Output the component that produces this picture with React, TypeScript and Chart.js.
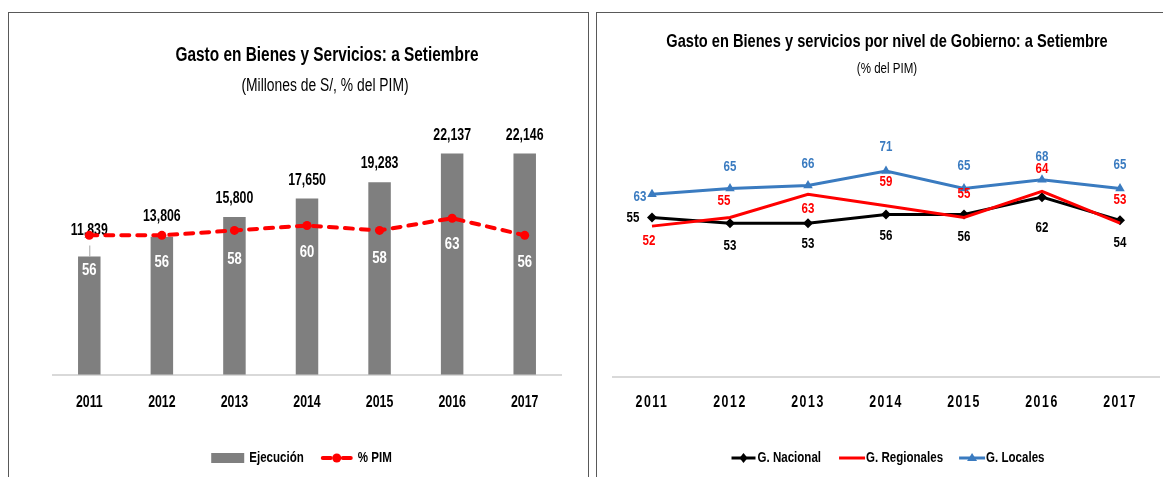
import React, { useEffect, useRef } from 'react';
import { Chart, registerables } from 'chart.js';

Chart.register(...registerables);

// ---------- data ----------
const years = ['2011', '2012', '2013', '2014', '2015', '2016', '2017'];
const ejecucion = [11839, 13806, 15800, 17650, 19283, 22137, 22146];
const pctPim = [56, 56, 58, 60, 58, 63, 56];
const gNacional = [55, 53, 53, 56, 56, 62, 54];
const gRegionales = [52, 55, 63, 59, 55, 64, 53];
const gLocales = [63, 65, 66, 71, 65, 68, 65];

// ---------- label placements (offsets from each mark, px) ----------
const ejecucionLabelDy = [-26, -20, -18, -18, -19, -18, -18];
const pctPimLabelDy = [35, 27, 29, 27, 28, 26, 27];
const nacionalLabelOffset = [[-19, 0], [0, 23], [0, 21], [0, 21], [0, 22], [0, 31], [0, 23]];
const regionalesLabelOffset = [[-3, 15], [-6, -17], [0, 15], [0, -24], [0, -24], [0, -23], [0, -23]];
const localesLabelOffset = [[-12, 3], [0, -22], [0, -22], [0, -24], [0, -23], [0, -23], [0, -24]];

const FONT = "'Liberation Sans', Arial, sans-serif";
const SX = 0.77; // horizontal condensing of all chart text (narrow, Calibri-like look)
const RED = '#FF0000';
const GRAY = '#7F7F7F';
const BLUE = '#3A7BC0';

Chart.defaults.font.family = FONT;

function font(size: number, bold: boolean) {
  return `${bold ? 'bold ' : ''}${size}px ${FONT}`;
}

function condense(ctx: any) {
  if (ctx.__condensed) return;
  ctx.__condensed = true;
  const fill = ctx.fillText.bind(ctx);
  const measure = ctx.measureText.bind(ctx);
  ctx.fillText = (s: string, x: number, y: number) => {
    ctx.save();
    ctx.translate(x, y);
    ctx.scale(SX, 1);
    fill(s, 0, 0);
    ctx.restore();
  };
  ctx.measureText = (s: string) => {
    const m = measure(s);
    return {
      width: m.width * SX,
      actualBoundingBoxAscent: m.actualBoundingBoxAscent,
      actualBoundingBoxDescent: m.actualBoundingBoxDescent,
      actualBoundingBoxLeft: m.actualBoundingBoxLeft * SX,
      actualBoundingBoxRight: m.actualBoundingBoxRight * SX,
      fontBoundingBoxAscent: m.fontBoundingBoxAscent,
      fontBoundingBoxDescent: m.fontBoundingBoxDescent,
    };
  };
}

function text(ctx: CanvasRenderingContext2D, s: string, x: number, y: number, f: string, color: string, align: CanvasTextAlign = 'center') {
  ctx.font = f;
  ctx.fillStyle = color;
  ctx.textAlign = align;
  ctx.textBaseline = 'middle';
  ctx.fillText(s, x, y);
}

// ---------- left chart decorations ----------
const leftDecor = {
  id: 'leftDecor',
  afterDatasetDraw(chart: any, args: any) {
    if (args.index !== 1) return;
    const ctx: CanvasRenderingContext2D = chart.ctx;
    const bars = chart.getDatasetMeta(1).data;
    ctx.save();
    bars.forEach((bar: any, i: number) => {
      const y = bar.y + ejecucionLabelDy[i];
      text(ctx, ejecucion[i].toLocaleString('en-US'), bar.x, y, font(16, true), '#000');
      if (bar.y - y > 22) {
        ctx.strokeStyle = '#A6A6A6';
        ctx.lineWidth = 1;
        ctx.beginPath();
        ctx.moveTo(bar.x + 0.5, y + 15);
        ctx.lineTo(bar.x + 0.5, bar.y);
        ctx.stroke();
      }
    });
    ctx.restore();
  },
  afterDatasetsDraw(chart: any) {
    const ctx: CanvasRenderingContext2D = chart.ctx;
    const pts = chart.getDatasetMeta(0).data;
    ctx.save();
    pts.forEach((p: any, i: number) => {
      text(ctx, String(pctPim[i]), p.x, p.y + pctPimLabelDy[i], font(17, true), '#FFFFFF');
    });
    ctx.restore();
  },
  afterDraw(chart: any) {
    const ctx: CanvasRenderingContext2D = chart.ctx;
    ctx.save();
    text(ctx, 'Gasto en Bienes y Servicios: a Setiembre', 318, 42, font(20, true), '#000');
    text(ctx, '(Millones de S/, % del PIM)', 316, 73, font(18, false), '#000');
    // legend
    const cy = 445;
    ctx.font = font(15, true);
    const w1 = ctx.measureText('Ejecución').width;
    const w2 = ctx.measureText('% PIM').width;
    const total = 33 + 5 + w1 + 17 + 32 + 5 + w2;
    let x = 292.5 - total / 2;
    ctx.fillStyle = GRAY;
    ctx.fillRect(x, cy - 5, 33, 10);
    x += 38;
    text(ctx, 'Ejecución', x, cy, font(15, true), '#000', 'left');
    x += w1 + 17;
    ctx.strokeStyle = RED;
    ctx.lineWidth = 4;
    ctx.lineCap = 'round';
    ctx.beginPath();
    ctx.moveTo(x + 2, cy);
    ctx.lineTo(x + 10, cy);
    ctx.moveTo(x + 22, cy);
    ctx.lineTo(x + 30, cy);
    ctx.stroke();
    ctx.fillStyle = RED;
    ctx.beginPath();
    ctx.arc(x + 16, cy, 4.5, 0, Math.PI * 2);
    ctx.fill();
    x += 37;
    text(ctx, '% PIM', x, cy, font(15, true), '#000', 'left');
    ctx.restore();
  },
};

// ---------- right chart decorations ----------
function drawLabels(ctx: CanvasRenderingContext2D, meta: any, values: number[], offs: number[][], color: string) {
  meta.data.forEach((p: any, i: number) => {
    text(ctx, String(values[i]), p.x + offs[i][0], p.y + offs[i][1], font(15, true), color);
  });
}

const rightDecor = {
  id: 'rightDecor',
  beforeDraw(chart: any) {
    (chart.ctx as any).letterSpacing = '2px';
  },
  beforeDatasetsDraw(chart: any) {
    (chart.ctx as any).letterSpacing = '0px';
  },
  afterDatasetsDraw(chart: any) {
    const ctx: CanvasRenderingContext2D = chart.ctx;
    ctx.save();
    drawLabels(ctx, chart.getDatasetMeta(0), gNacional, nacionalLabelOffset, '#000');
    drawLabels(ctx, chart.getDatasetMeta(1), gRegionales, regionalesLabelOffset, RED);
    drawLabels(ctx, chart.getDatasetMeta(2), gLocales, localesLabelOffset, BLUE);
    ctx.restore();
  },
  afterDraw(chart: any) {
    const ctx: CanvasRenderingContext2D = chart.ctx;
    ctx.save();
    text(ctx, 'Gasto en Bienes y servicios por nivel de Gobierno: a Setiembre', 290, 29, font(19, true), '#000');
    text(ctx, '(% del PIM)', 290, 56, font(15, false), '#000');
    // legend
    const cy = 445;
    ctx.font = font(15, true);
    const labels = ['G. Nacional', 'G. Regionales', 'G. Locales'];
    const ws = labels.map((l) => ctx.measureText(l).width);
    const total = 24 + 2 + ws[0] + 18 + 26 + 1 + ws[1] + 16 + 26 + 1 + ws[2];
    let x = 291 - total / 2;
    ctx.lineCap = 'butt';
    // Nacional
    ctx.strokeStyle = '#000';
    ctx.lineWidth = 3;
    ctx.beginPath();
    ctx.moveTo(x, cy);
    ctx.lineTo(x + 24, cy);
    ctx.stroke();
    ctx.fillStyle = '#000';
    ctx.beginPath();
    ctx.moveTo(x + 12, cy - 5);
    ctx.lineTo(x + 16, cy);
    ctx.lineTo(x + 12, cy + 5);
    ctx.lineTo(x + 8, cy);
    ctx.closePath();
    ctx.fill();
    x += 26;
    text(ctx, labels[0], x, cy, font(15, true), '#000', 'left');
    x += ws[0] + 18;
    // Regionales
    ctx.strokeStyle = RED;
    ctx.beginPath();
    ctx.moveTo(x, cy);
    ctx.lineTo(x + 26, cy);
    ctx.stroke();
    x += 27;
    text(ctx, labels[1], x, cy, font(15, true), '#000', 'left');
    x += ws[1] + 16;
    // Locales
    ctx.strokeStyle = BLUE;
    ctx.beginPath();
    ctx.moveTo(x, cy);
    ctx.lineTo(x + 26, cy);
    ctx.stroke();
    ctx.fillStyle = BLUE;
    ctx.beginPath();
    ctx.moveTo(x + 13, cy - 5);
    ctx.lineTo(x + 18, cy + 3);
    ctx.lineTo(x + 8, cy + 3);
    ctx.closePath();
    ctx.fill();
    x += 27;
    text(ctx, labels[2], x, cy, font(15, true), '#000', 'left');
    ctx.restore();
  },
};

function leftConfig(): any {
  return {
    type: 'bar',
    data: {
      labels: years,
      datasets: [
        {
          type: 'line',
          label: '% PIM',
          data: pctPim,
          yAxisID: 'y1',
          borderColor: RED,
          backgroundColor: RED,
          borderWidth: 4,
          borderDash: [8, 8],
          borderCapStyle: 'round',
          pointRadius: 4.5,
          pointBorderWidth: 0,
          pointBackgroundColor: RED,
          tension: 0,
          order: 0,
        },
        {
          type: 'bar',
          label: 'Ejecución',
          data: ejecucion,
          yAxisID: 'y',
          backgroundColor: GRAY,
          barPercentage: 0.31,
          categoryPercentage: 1,
          order: 1,
        },
      ],
    },
    options: {
      responsive: false,
      animation: false,
      devicePixelRatio: 1,
      layout: { padding: { left: 44, right: 26, top: 122, bottom: 47 } },
      plugins: { legend: { display: false }, title: { display: false }, tooltip: { enabled: false } },
      scales: {
        x: {
          grid: { display: false, drawTicks: false },
          border: { display: true, color: '#D9D9D9', width: 2 },
          ticks: { padding: 18, color: '#000', font: { size: 16, weight: 'bold', family: FONT } },
        },
        y: { display: false, min: 0, max: 24000 },
        y1: { display: false, min: -1, max: 97 },
      },
    },
    plugins: [leftDecor],
  };
}

function rightConfig(): any {
  return {
    type: 'line',
    data: {
      labels: years,
      datasets: [
        {
          label: 'G. Nacional',
          data: gNacional,
          borderColor: '#000',
          backgroundColor: '#000',
          borderWidth: 3,
          pointStyle: 'rectRot',
          pointRadius: 5,
          pointBorderWidth: 0,
          pointBackgroundColor: '#000',
          tension: 0,
          order: 3,
        },
        {
          label: 'G. Regionales',
          data: gRegionales,
          borderColor: RED,
          backgroundColor: RED,
          borderWidth: 3,
          pointRadius: 0,
          tension: 0,
          order: 2,
        },
        {
          label: 'G. Locales',
          data: gLocales,
          borderColor: BLUE,
          backgroundColor: BLUE,
          borderWidth: 3,
          pointStyle: 'triangle',
          pointRadius: 5.5,
          pointBorderWidth: 0,
          pointBackgroundColor: BLUE,
          tension: 0,
          order: 1,
        },
      ],
    },
    options: {
      responsive: false,
      animation: false,
      devicePixelRatio: 1,
      layout: { padding: { left: 16, right: 22, top: 132, bottom: 49 } },
      plugins: { legend: { display: false }, title: { display: false }, tooltip: { enabled: false } },
      scales: {
        x: {
          offset: true,
          grid: { display: false, drawTicks: false },
          border: { display: true, color: '#D9D9D9', width: 2 },
          ticks: { padding: 16, color: '#000', font: { size: 16, weight: 'bold', family: FONT } },
        },
        y: { display: false, min: 0, max: 80 },
      },
    },
    plugins: [rightDecor],
  };
}

function ChartCanvas({ make, width, height }: { make: () => any; width: number; height: number }) {
  const ref = useRef<HTMLCanvasElement>(null);
  useEffect(() => {
    const canvas = ref.current as HTMLCanvasElement;
    condense(canvas.getContext('2d'));
    const chart = new Chart(canvas, make());
    return () => chart.destroy();
  }, []);
  return <canvas ref={ref} width={width} height={height} style={{ display: 'block', width, height }} />;
}

export default function App() {
  return (
    <div style={{ position: 'absolute', left: 0, top: 0, width: 1163, height: 477, overflow: 'hidden', background: '#fff' }}>
      <div style={{ position: 'absolute', left: 8, top: 12, width: 581, height: 480, border: '1px solid #595959', boxSizing: 'border-box' }}>
        <ChartCanvas make={leftConfig} width={578} height={464} />
      </div>
      <div style={{ position: 'absolute', left: 596, top: 12, width: 590, height: 480, border: '1px solid #595959', boxSizing: 'border-box' }}>
        <ChartCanvas make={rightConfig} width={584} height={464} />
      </div>
    </div>
  );
}
